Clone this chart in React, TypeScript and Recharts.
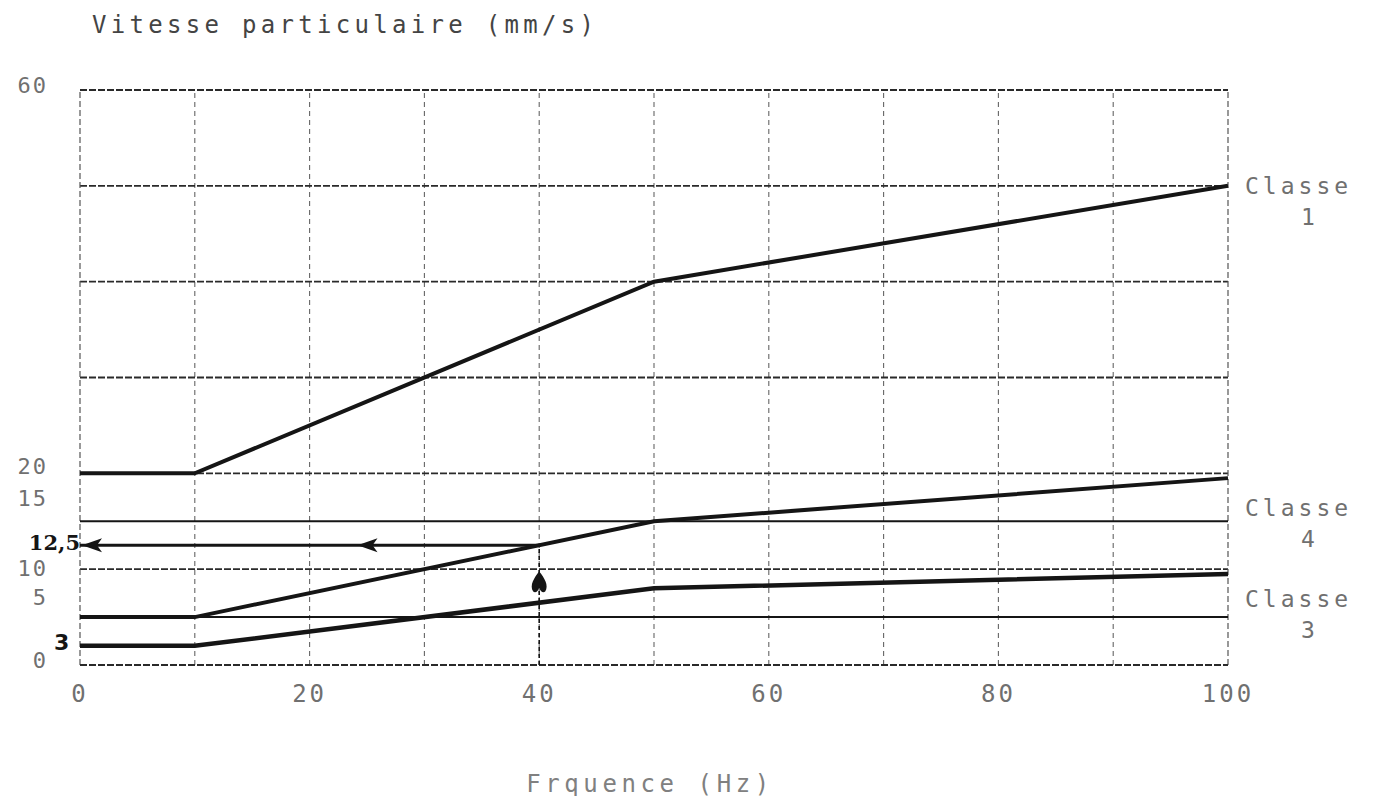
import { LineChart, Line, XAxis, YAxis, ReferenceLine, ReferenceDot } from "recharts";

// vitesse particulaire limite par classe (mm/s) selon la fréquence (Hz)
const freq = [0, 10, 50, 100];
const classe1 = [20, 20, 40, 50];
const classe2 = [5, 5, 15, 19.5];
const classe3 = [2, 2, 8, 9.5];

const xTicks = [0, 20, 40, 60, 80, 100];
const yTicks = [0, 5, 10, 15, 20, 60];
const yNotes = [3, 12.5];
const gridX = [10, 20, 30, 40, 50, 60, 70, 80, 90];
const gridY = [10, 20, 30, 40, 50];
const solidY = [5, 15];

// the printer put the y labels a bit off their lines
const tickNudge: Record<number, number> = { 60: 3, 20: 1, 15: -15, 10: 7, 5: -12, 0: 3 };

const classLabels = [
  { num: "1", v: 50, dy: 0 },
  { num: "4", v: 15, dy: -13 },
  { num: "3", v: 5, dy: -18 },
];

// lecture : 40 Hz -> 12,5 mm/s
const readF = 40;
const readV = 12.5;
const arrows = [
  { f: 0, v: 12.5, dir: "left" },
  { f: 24, v: 12.5, dir: "left" },
  { f: 40, v: 8.5, dir: "up" },
];

const data = freq.map((f, i) => ({ f, c1: classe1[i], c2: classe2[i], c3: classe3[i] }));

const MONO = "'DejaVu Sans Mono', monospace";
const INK = "#151515";
const PRINT = "#707070";

const XTick = (p: any) => (
  <text
    x={p.x}
    y={p.y + 29}
    textAnchor="middle"
    fontFamily={MONO}
    fontSize={24}
    letterSpacing={3}
    fill={PRINT}
  >
    {p.payload.value}
  </text>
);

const YTick = (p: any) => {
  const v = p.payload.value;
  if (v === 3) {
    return (
      <text x={46} y={p.y + 14} fontFamily="'DejaVu Sans', sans-serif" fontWeight="bold" fontSize={22} fill={INK}>
        3
      </text>
    );
  }
  if (v === 12.5) {
    return (
      <text x={72} y={p.y + 5} textAnchor="end" fontFamily="'DejaVu Serif', serif" fontWeight="bold" fontSize={21} fill={INK}>
        12,5
      </text>
    );
  }
  return (
    <text x={40} y={p.y + (tickNudge[v] ?? 0)} textAnchor="end" fontFamily={MONO} fontSize={22} letterSpacing={2} fill={PRINT}>
      {v}
    </text>
  );
};

const ClassLabel = (lab: { num: string; dy: number }) => (p: any) => (
  <g fontFamily={MONO} fontSize={23} letterSpacing={4} fill={PRINT}>
    <text x={p.cx + 17} y={p.cy + lab.dy + 8}>Classe</text>
    <text x={p.cx + 82} y={p.cy + lab.dy + 39} textAnchor="middle">{lab.num}</text>
  </g>
);

const Arrow = (dir: string) => (p: any) => {
  const { cx, cy } = p;
  if (dir === "up") {
    return (
      <path
        d={`M${cx},${cy - 12} C${cx + 5},${cy - 6} ${cx + 10},${cy + 2} ${cx + 6},${cy + 8} C${cx + 4},${cy + 10} ${cx + 1},${cy + 8} ${cx},${cy + 4} C${cx - 1},${cy + 8} ${cx - 4},${cy + 10} ${cx - 6},${cy + 8} C${cx - 10},${cy + 2} ${cx - 5},${cy - 6} ${cx},${cy - 12} Z`}
        fill={INK}
      />
    );
  }
  return <path d={`M${cx + 2},${cy} L${cx + 22},${cy - 7} L${cx + 17},${cy} L${cx + 22},${cy + 7} Z`} fill={INK} />;
};

export default function App() {
  return (
    <div style={{ position: "relative", width: 1359, height: 788 }}>
      <div
        style={{
          position: "absolute",
          left: 84,
          top: 5,
          fontFamily: MONO,
          fontSize: 24,
          lineHeight: "24px",
          letterSpacing: 4.3,
          color: "#444",
          whiteSpace: "nowrap",
        }}
      >
        Vitesse particulaire (mm/s)
      </div>
      <LineChart width={1359} height={788} data={data} margin={{ top: 82, right: 139, left: 0, bottom: 0 }}>
        <XAxis
          dataKey="f"
          type="number"
          domain={[0, 100]}
          ticks={xTicks}
          axisLine={false}
          tickLine={false}
          height={131}
          tick={XTick}
        />
        <YAxis
          type="number"
          domain={[0, 60]}
          ticks={[...yTicks, ...yNotes]}
          interval={0}
          axisLine={false}
          tickLine={false}
          width={72}
          tick={YTick}
        />
        {gridX.map((x) => (
          <ReferenceLine key={`gx${x}`} x={x} stroke="#666" strokeWidth={1.1} strokeDasharray="5 4" />
        ))}
        {gridY.map((y) => (
          <ReferenceLine key={`gy${y}`} y={y} stroke="#2a2a2a" strokeWidth={1.8} strokeDasharray="7 2" />
        ))}
        <ReferenceLine x={0} stroke="#555" strokeWidth={1.2} strokeDasharray="6 3" />
        <ReferenceLine x={100} stroke="#555" strokeWidth={1.2} strokeDasharray="6 3" />
        <ReferenceLine y={0} stroke="#2a2a2a" strokeWidth={1.8} strokeDasharray="7 2" />
        <ReferenceLine y={60} stroke="#2a2a2a" strokeWidth={1.8} strokeDasharray="7 2" />
        {solidY.map((y) => (
          <ReferenceLine key={`sy${y}`} y={y} stroke={INK} strokeWidth={2} />
        ))}
        <ReferenceLine
          segment={[
            { x: readF, y: 0 },
            { x: readF, y: readV },
          ]}
          stroke={INK}
          strokeWidth={1.6}
          strokeDasharray="4 3"
        />
        <ReferenceLine
          segment={[
            { x: 0, y: readV },
            { x: readF, y: readV },
          ]}
          stroke={INK}
          strokeWidth={3}
        />
        <Line dataKey="c1" stroke={INK} strokeWidth={4} dot={false} isAnimationActive={false} />
        <Line dataKey="c2" stroke={INK} strokeWidth={4} dot={false} isAnimationActive={false} />
        <Line dataKey="c3" stroke={INK} strokeWidth={4.5} dot={false} isAnimationActive={false} />
        {arrows.map((a, i) => (
          <ReferenceDot key={`a${i}`} x={a.f} y={a.v} r={1} shape={Arrow(a.dir)} />
        ))}
        {classLabels.map((c) => (
          <ReferenceDot key={`c${c.num}`} x={100} y={c.v} r={1} shape={ClassLabel(c)} />
        ))}
      </LineChart>
      <div
        style={{
          position: "absolute",
          left: 642,
          top: 764,
          transform: "translateX(-50%)",
          fontFamily: MONO,
          fontSize: 24,
          lineHeight: "24px",
          letterSpacing: 4.6,
          color: "#808080",
          whiteSpace: "nowrap",
        }}
      >
        Frquence (Hz)
      </div>
    </div>
  );
}
